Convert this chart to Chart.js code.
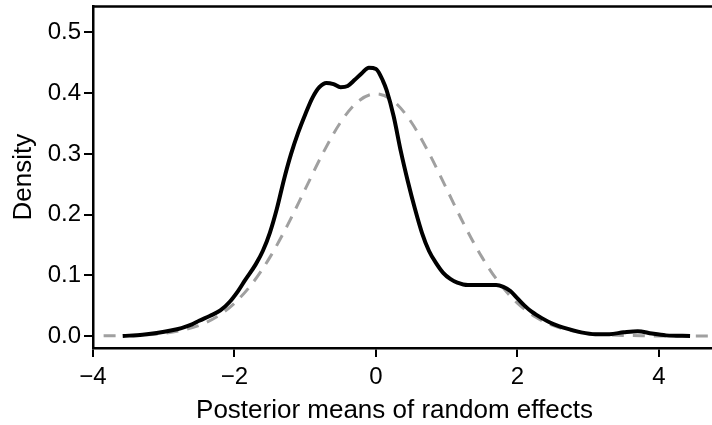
<!DOCTYPE html>
<html>
<head>
<meta charset="utf-8">
<script src="https://cdn.jsdelivr.net/npm/chart.js@4/dist/chart.umd.min.js"></script>
<style>
  html, body { margin: 0; padding: 0; background: #fff; overflow: hidden; }
  #wrap { width: 712px; height: 436px; margin-top: -11px; }
</style>
</head>
<body>
<div id="wrap"><canvas id="densityChart"></canvas></div>
<script>
// kernel density of posterior means (solid black)
const effectX = [-3.58, -3.3, -3.1, -2.9, -2.75, -2.6, -2.5, -2.35, -2.2, -2.07, -1.95, -1.85, -1.7, -1.6, -1.5,
  -1.4, -1.3, -1.2, -1.1, -1.0, -0.9, -0.8, -0.7, -0.6, -0.5, -0.4, -0.3, -0.2, -0.1, 0.0, 0.1, 0.15, 0.25,
  0.35, 0.45, 0.55, 0.65, 0.75, 0.85, 0.95, 1.05, 1.15, 1.3, 1.5, 1.7, 1.8, 1.9, 2.0, 2.1, 2.2, 2.35, 2.5,
  2.7, 2.9, 3.1, 3.3, 3.5, 3.7, 3.9, 4.1, 4.44];
const effectDensity = [0.000, 0.002, 0.005, 0.009, 0.013, 0.019, 0.025, 0.033, 0.042, 0.056, 0.074, 0.092, 0.118, 0.140, 0.170,
  0.210, 0.258, 0.300, 0.335, 0.365, 0.392, 0.410, 0.417, 0.415, 0.410, 0.412, 0.422, 0.433, 0.442, 0.440, 0.420, 0.405, 0.362,
  0.305, 0.255, 0.210, 0.170, 0.140, 0.120, 0.104, 0.094, 0.088, 0.084, 0.084, 0.084, 0.081, 0.074, 0.062, 0.050, 0.040, 0.029, 0.020,
  0.012, 0.006, 0.003, 0.003, 0.006, 0.008, 0.004, 0.001, 0.000];

// reference normal curve (grey dashed)
const normalX = [-3.85, -3.5, -3.25, -3, -2.75, -2.5, -2.25, -2, -1.75, -1.5, -1.25, -1, -0.75, -0.5, -0.25, 0,
  0.25, 0.5, 0.75, 1, 1.25, 1.5, 1.75, 2, 2.25, 2.5, 2.75, 3, 3.25, 3.5, 3.75, 4, 4.25, 4.5, 4.75];
const normalDensity = [0.0002, 0.0009, 0.002, 0.0044, 0.0091, 0.0175, 0.0317, 0.054, 0.0863, 0.1295, 0.1826, 0.242, 0.3011, 0.3521, 0.3867, 0.3989,
  0.3867, 0.3521, 0.3011, 0.242, 0.1826, 0.1295, 0.0863, 0.054, 0.0317, 0.0175, 0.0091, 0.0044, 0.002, 0.0009, 0.0004, 0.0001, 0, 0, 0];

const xTicks = [-4, -2, 0, 2, 4];
const yTicks = [0, 0.1, 0.2, 0.3, 0.4, 0.5];
const xTitle = 'Posterior means of random effects';

const FONT = 'Liberation Sans, Arial, Helvetica, sans-serif';

const toPoints = (xs, ys) => xs.map((x, i) => ({ x: x, y: ys[i] }));

// top frame line and the x title (R centres it a bit left of the cropped plot box)
const frameAndTitle = {
  id: 'frameAndTitle',
  afterDraw: (chart) => {
    const { ctx, chartArea } = chart;
    ctx.save();
    ctx.strokeStyle = '#000';
    ctx.lineWidth = 2.5;
    ctx.beginPath();
    ctx.moveTo(chartArea.left - 1, chartArea.top);
    ctx.lineTo(chartArea.right, chartArea.top);
    ctx.stroke();

    ctx.fillStyle = '#000';
    ctx.font = '26px ' + FONT;
    ctx.textAlign = 'center';
    ctx.textBaseline = 'alphabetic';
    ctx.fillText(xTitle, 394.5, chartArea.bottom + 70);
    ctx.restore();
  }
};

new Chart(document.getElementById('densityChart'), {
  type: 'line',
  data: {
    datasets: [{
      label: 'posterior means',
      data: toPoints(effectX, effectDensity),
      borderColor: '#000',
      borderWidth: 4,
      pointRadius: 0,
      cubicInterpolationMode: 'monotone',
      fill: false
    }, {
      label: 'normal',
      data: toPoints(normalX, normalDensity),
      borderColor: '#a0a0a0',
      borderWidth: 3,
      borderDash: [12, 9],
      pointRadius: 0,
      cubicInterpolationMode: 'monotone',
      fill: false
    }]
  },
  options: {
    responsive: true,
    maintainAspectRatio: false,
    animation: false,
    layout: { padding: 0 },
    plugins: { legend: { display: false }, tooltip: { enabled: false } },
    scales: {
      x: {
        type: 'linear',
        min: -4,
        max: 4.75,
        afterFit: (s) => { s.height = 77; },
        afterBuildTicks: (s) => { s.ticks = xTicks.map(v => ({ value: v })); },
        border: { color: '#000', width: 2.5 },
        grid: { drawOnChartArea: false, color: '#000', lineWidth: 2, tickLength: 9 },
        ticks: {
          color: '#000',
          font: { family: FONT, size: 24 },
          padding: 6,
          maxRotation: 0,
          callback: (v) => String(v).replace('-', '\u2212')
        }
      },
      y: {
        min: -0.0198,
        max: 0.543,
        afterFit: (s) => { s.width = 93; },
        afterBuildTicks: (s) => { s.ticks = yTicks.map(v => ({ value: v })); },
        border: { color: '#000', width: 2.5 },
        grid: { drawOnChartArea: false, color: '#000', lineWidth: 2, tickLength: 9 },
        ticks: {
          color: '#000',
          font: { family: FONT, size: 24 },
          padding: 3,
          callback: (v) => v.toFixed(1)
        },
        title: {
          display: true,
          text: 'Density',
          color: '#000',
          font: { family: FONT, size: 26 },
          padding: { top: 8, bottom: 0 }
        }
      }
    }
  },
  plugins: [frameAndTitle]
});
</script>
</body>
</html>
